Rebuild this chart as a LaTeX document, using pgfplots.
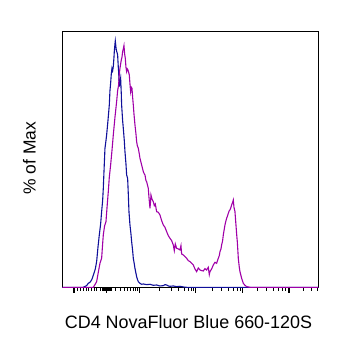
\documentclass[border=0pt]{standalone}
\usepackage{fontspec}
\setmainfont{Liberation Sans}
\usepackage{pgfplots}
\pgfplotsset{compat=1.18}
\definecolor{cblue}{HTML}{10109A}
\definecolor{cmag}{HTML}{A000A8}
\begin{document}
\begin{tikzpicture}
\useasboundingbox (-62.3bp,-57.7bp) rectangle (276.7bp,287.3bp);
\begin{axis}[
  scale only axis,
  width=256bp, height=255.7bp,
  xmin=37, xmax=805, ymin=0, ymax=767,
  axis line style={black, line width=0.9bp},
  ytick=\empty,
  xtick pos=bottom,
  tick align=outside,
  xtick={72,170,268,437,578,717},
  minor xtick={83,92,100,108,116,124,132,140,150,158,161,164,167,173,176,179,182,185,195,210,222,233,242,250,257,263,327,363,385,402,414,424,431,487,515,535,549,561,570,622,650,670,685,697,707,760,785,803},
  xticklabels={},
  major tick length=5.5bp,
  minor tick length=3.5bp,
  every major tick/.style={black, line width=1.3bp},
  every minor tick/.style={black, line width=0.9bp},
  clip=true,
]
\addplot[cblue, line width=1.1bp] coordinates {
(37,0)(100,0)(110,5)(115,12)(120,15)(125,22)(128,30)(132,42)(136,55)(140,77)(144,120)(148,157)(152,190)(155,227)(158,260)(160,297)(163,370)(165,417)(168,440)(170,457)(174,500)(178,547)(180,590)(182,612)(184,640)(186,657)(188,650)(190,662)(192,690)(193,707)(195,730)(196,739)(198,720)(199,712)(201,705)(203,697)(205,660)(206,647)(208,602)(210,615)(212,627)(214,580)(215,547)(218,500)(220,477)(223,440)(225,407)(228,370)(230,337)(233,327)(235,280)(237,227)(240,187)(243,160)(245,137)(248,110)(250,87)(253,70)(255,57)(258,42)(260,32)(263,22)(265,17)(270,12)(275,9)(280,10)(290,8)(300,9)(310,6)(320,7)(330,4)(340,5)(345,8)(350,7)(355,4)(360,3)(370,4)(380,2)(390,3)(400,1)(410,0)(805,0)
};
\addplot[cmag, line width=1.1bp] coordinates {
(37,0)(130,0)(135,8)(140,17)(145,45)(150,72)(155,87)(158,130)(160,157)(164,185)(168,197)(172,250)(175,287)(178,330)(182,367)(186,410)(190,457)(195,510)(200,557)(203,590)(206,607)(208,640)(210,657)(212,670)(214,682)(216,690)(218,707)(220,715)(222,725)(224,700)(226,687)(228,660)(230,647)(232,655)(234,652)(236,645)(238,637)(240,610)(242,587)(244,600)(246,597)(248,570)(250,547)(252,520)(255,487)(258,460)(260,437)(262,425)(265,417)(268,400)(270,387)(273,375)(275,367)(278,355)(280,347)(283,340)(285,337)(288,320)(290,317)(293,305)(295,297)(297,270)(300,237)(302,260)(303,277)(306,265)(310,257)(313,245)(316,250)(320,227)(325,225)(330,217)(335,200)(340,187)(345,180)(350,167)(355,155)(360,147)(365,140)(370,127)(373,110)(376,130)(380,117)(385,115)(390,112)(393,125)(395,100)(400,97)(405,92)(410,87)(415,80)(420,77)(425,72)(430,67)(435,55)(440,47)(445,58)(450,52)(455,50)(460,49)(465,56)(470,52)(475,60)(478,38)(480,47)(485,55)(490,67)(495,75)(500,72)(505,87)(508,95)(510,107)(513,115)(515,127)(518,140)(520,157)(523,175)(525,187)(528,200)(530,207)(533,215)(535,222)(538,230)(540,232)(543,240)(545,247)(548,255)(550,262)(552,240)(555,227)(557,200)(558,187)(560,160)(562,137)(564,105)(565,87)(568,60)(570,47)(573,35)(575,27)(578,18)(580,12)(585,6)(590,2)(600,0)(805,0)
};
\end{axis}
\node[font=\fontsize{18}{21}\selectfont] at (126.2bp,-34.7bp) {CD4 NovaFluor Blue 660-120S};
\node[font=\fontsize{17.5}{21}\selectfont, rotate=90] at (-32.8bp,129.3bp) {\% of Max};
\end{tikzpicture}
\end{document}
